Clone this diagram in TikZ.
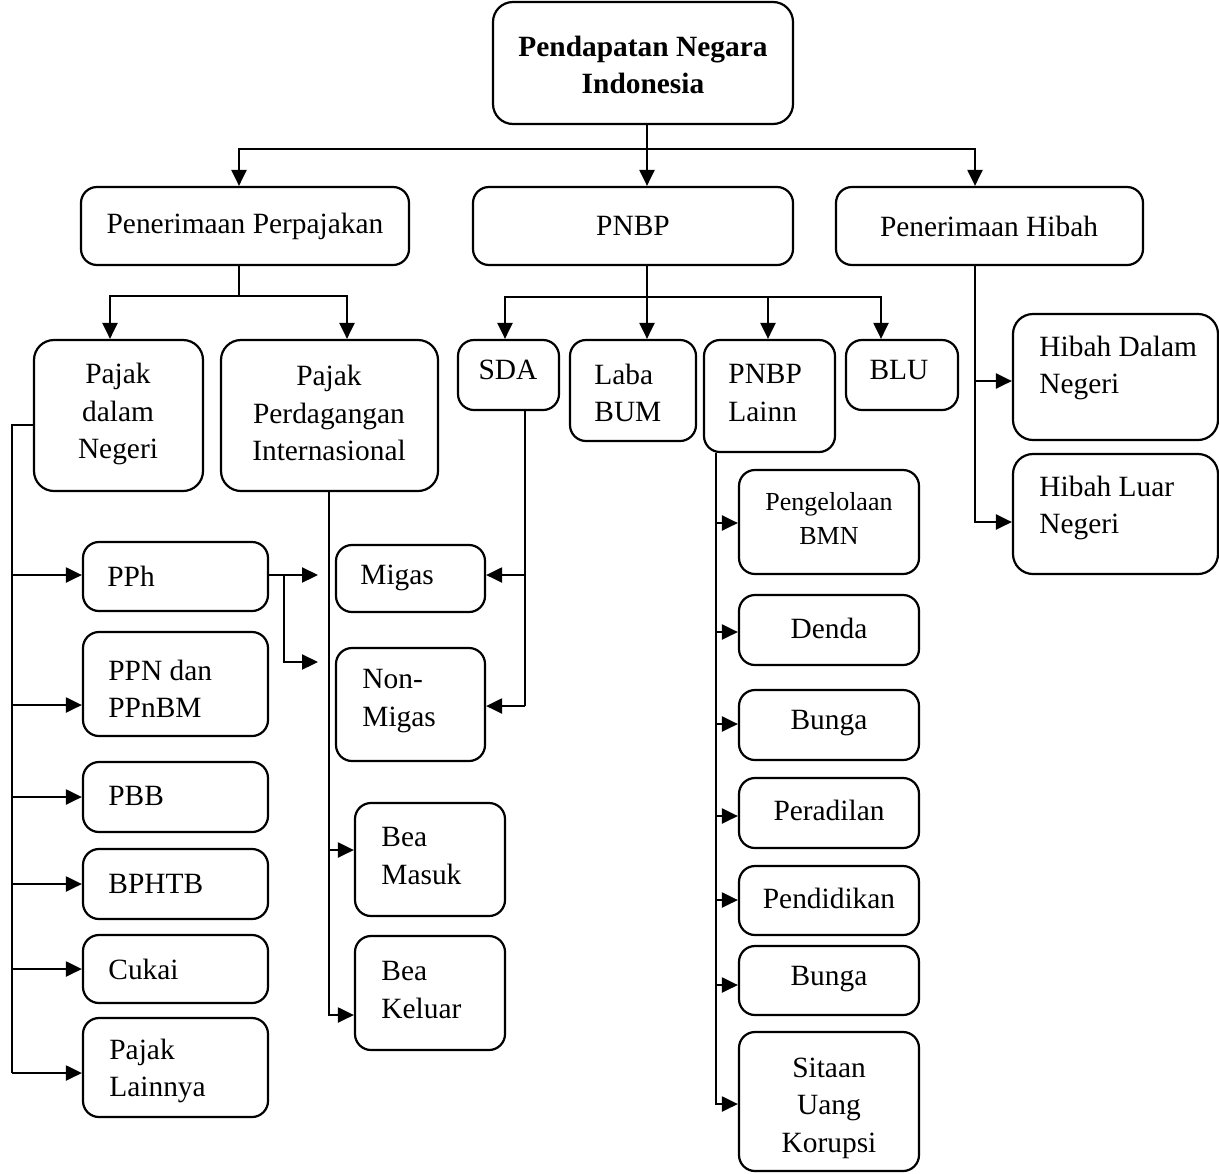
\documentclass[tikz,border=0pt]{standalone}
\usepackage{fontspec}
\setmainfont{Liberation Serif}
\usetikzlibrary{arrows.meta,fit}
\begin{document}
\begin{tikzpicture}[x=0.5pt,y=-0.5pt,
 bx/.style={draw,line width=1.1pt,rounded corners=8pt,inner sep=0pt},
 tx/.style={font=\fontsize{14.7}{18.75}\selectfont,inner sep=0pt,align=center},
 tb/.style={font=\fontsize{14.7}{18.75}\selectfont\bfseries,inner sep=0pt,align=center},
 tl/.style={tx,align=left,anchor=west},
 ts/.style={font=\fontsize{13}{17}\selectfont,inner sep=0pt,align=center},
 ar/.style={line width=1.1pt,-{Triangle[length=8pt,width=7.5pt]}},
 ln/.style={line width=1.1pt}]
\useasboundingbox (0,0) rectangle (1219,1173);
% boxes
\node[bx,rounded corners=10pt,fit={(493,2)(793,124)}] (top) {};
\node[bx,fit={(81,187)(409,265)}] (pp) {};
\node[bx,fit={(473,187)(793,265)}] (pnbp) {};
\node[bx,fit={(836,187)(1143,265)}] (ph) {};
\node[bx,rounded corners=10pt,fit={(34,340)(203,491)}] (pdn) {};
\node[bx,rounded corners=10pt,fit={(221,340)(438,491)}] (ppi) {};
\node[bx,fit={(458,340)(559,410)}] (sda) {};
\node[bx,fit={(570,340)(696,441)}] (laba) {};
\node[bx,fit={(704,340)(835,452)}] (lain) {};
\node[bx,fit={(846,340)(958,410)}] (blu) {};
\node[bx,rounded corners=10pt,fit={(1013,314)(1218,440)}] (hdn) {};
\node[bx,rounded corners=10pt,fit={(1013,454)(1218,574)}] (hln) {};
\node[bx,fit={(83,542)(268,611)}] (pph) {};
\node[bx,fit={(83,632)(268,736)}] (ppn) {};
\node[bx,fit={(83,762)(268,832)}] (pbb) {};
\node[bx,fit={(83,849)(268,919)}] (bphtb) {};
\node[bx,fit={(83,935)(268,1003)}] (cukai) {};
\node[bx,fit={(83,1018)(268,1117)}] (plain) {};
\node[bx,fit={(336,545)(485,612)}] (migas) {};
\node[bx,fit={(336,648)(485,761)}] (nonmigas) {};
\node[bx,fit={(355,803)(505,916)}] (beam) {};
\node[bx,fit={(355,936)(505,1050)}] (beak) {};
\node[bx,fit={(739,470)(919,574)}] (bmn) {};
\node[bx,fit={(739,595)(919,665)}] (denda) {};
\node[bx,fit={(739,690)(919,760)}] (bunga1) {};
\node[bx,fit={(739,778)(919,848)}] (peradilan) {};
\node[bx,fit={(739,866)(919,935)}] (pendidikan) {};
\node[bx,fit={(739,946)(919,1015)}] (bunga2) {};
\node[bx,fit={(739,1032)(919,1171)}] (sitaan) {};
% texts
\node[tb] (t-top) at (643,65) {Pendapatan Negara\\Indonesia};
\node[tx] (t-pp) at (245,226) {Penerimaan Perpajakan};
\node[tx] (t-pnbp) at (633,226) {PNBP};
\node[tx] (t-ph) at (989,226) {Penerimaan Hibah};
\node[tx] (t-pdn) at (118,414) {Pajak\\dalam\\Negeri};
\node[tx] (t-ppi) at (329,413) {Pajak\\Perdagangan\\Internasional};
\node[tx] (t-sda) at (508,370) {SDA};
\node[tl] (t-laba) at (594,393) {Laba\\BUM};
\node[tl] (t-lain) at (728,393) {PNBP\\Lainn};
\node[tx] (t-blu) at (899,370) {BLU};
\node[tl] (t-hdn) at (1039,368) {Hibah Dalam\\Negeri};
\node[tl] (t-hln) at (1039,508) {Hibah Luar\\Negeri};
\node[tl] (t-pph) at (107,576) {PPh};
\node[tl] (t-ppn) at (108,689) {PPN dan\\PPnBM};
\node[tl] (t-pbb) at (108,796) {PBB};
\node[tl] (t-bphtb) at (108,884) {BPHTB};
\node[tl] (t-cukai) at (108,969) {Cukai};
\node[tl] (t-plain) at (109,1071) {Pajak\\Lainnya};
\node[tl] (t-migas) at (360,578) {Migas};
\node[tl] (t-nonmigas) at (362,701) {Non-\\Migas};
\node[tl] (t-beam) at (381,856) {Bea\\Masuk};
\node[tl] (t-beak) at (381,990) {Bea\\Keluar};
\node[ts] (t-bmn) at (829,519) {Pengelolaan\\BMN};
\node[tx] (t-denda) at (829,628) {Denda};
\node[tx] (t-bunga1) at (829,723) {Bunga};
\node[tx] (t-peradilan) at (829,810) {Peradilan};
\node[tx] (t-pendidikan) at (829,898) {Pendidikan};
\node[tx] (t-bunga2) at (829,979) {Bunga};
\node[tx] (t-sitaan) at (829,1108) {Sitaan\\Uang\\Korupsi};
% connectors: top level
\draw[ar] (top.south -| 647,0) -- (pnbp.north -| 647,0);
\draw[ar] (top.south -| 647,0) ++(0,24) -| (pp.north -| 239,0);
\draw[ar] (top.south -| 647,0) ++(0,24) -| (ph.north -| 975,0);
% under Penerimaan Perpajakan
\draw[ar] (pp.south -| 239,0) -- (239,296) -| (pdn.north -| 110,0);
\draw[ar] (pp.south -| 239,0) -- (239,296) -| (ppi.north -| 347,0);
% under PNBP
\draw[ar] (pnbp.south -| 647,0) -- (laba.north -| 647,0);
\draw[ar] (pnbp.south -| 647,0) -- (647,297) -| (sda.north -| 505,0);
\draw[ar] (pnbp.south -| 647,0) -- (647,297) -| (lain.north -| 768,0);
\draw[ar] (pnbp.south -| 647,0) -- (647,297) -| (blu.north -| 881,0);
% under Penerimaan Hibah
\draw[ar] (ph.south -| 975,0) |- (hdn.west |- 0,381);
\draw[ar] (ph.south -| 975,0) |- (hln.west |- 0,522);
% left trunk
\coordinate (L) at (12,425);
\draw[ln] (pdn.west |- L) -- (L) -- (L |- 0,1073);
\draw[ar] (L |- 0,575) -- (pph.west |- 0,575);
\draw[ar] (L |- 0,705) -- (ppn.west |- 0,705);
\draw[ar] (L |- 0,797) -- (pbb.west |- 0,797);
\draw[ar] (L |- 0,884) -- (bphtb.west |- 0,884);
\draw[ar] (L |- 0,969) -- (cukai.west |- 0,969);
\draw[ar] (L |- 0,1073) -- (plain.west |- 0,1073);
% PPh to Migas / Non-Migas
\coordinate (pm1) at (318,575);
\coordinate (pm2) at (318,662);
\draw[ar] (pph.east |- pm1) -- (pm1);
\draw[ar] (284,575) |- (pm2);
% SDA trunk
\draw[ln] (sda.south -| 525,0) -- (525,706);
\draw[ar] (525,575) -- (migas.east |- 0,575);
\draw[ar] (525,706) -- (nonmigas.east |- 0,706);
% Pajak Perdagangan Internasional trunk
\draw[ar] (ppi.south -| 329,0) |- (beam.west |- 0,850);
\draw[ar] (ppi.south -| 329,0) |- (beak.west |- 0,1015);
% PNBP Lainn trunk
\draw[ar] (lain.south -| 716,0) |- (bmn.west |- 0,523);
\draw[ar] (lain.south -| 716,0) |- (denda.west |- 0,632);
\draw[ar] (lain.south -| 716,0) |- (bunga1.west |- 0,724);
\draw[ar] (lain.south -| 716,0) |- (peradilan.west |- 0,816);
\draw[ar] (lain.south -| 716,0) |- (pendidikan.west |- 0,900);
\draw[ar] (lain.south -| 716,0) |- (bunga2.west |- 0,985);
\draw[ar] (lain.south -| 716,0) |- (sitaan.west |- 0,1104);
\end{tikzpicture}
\end{document}
